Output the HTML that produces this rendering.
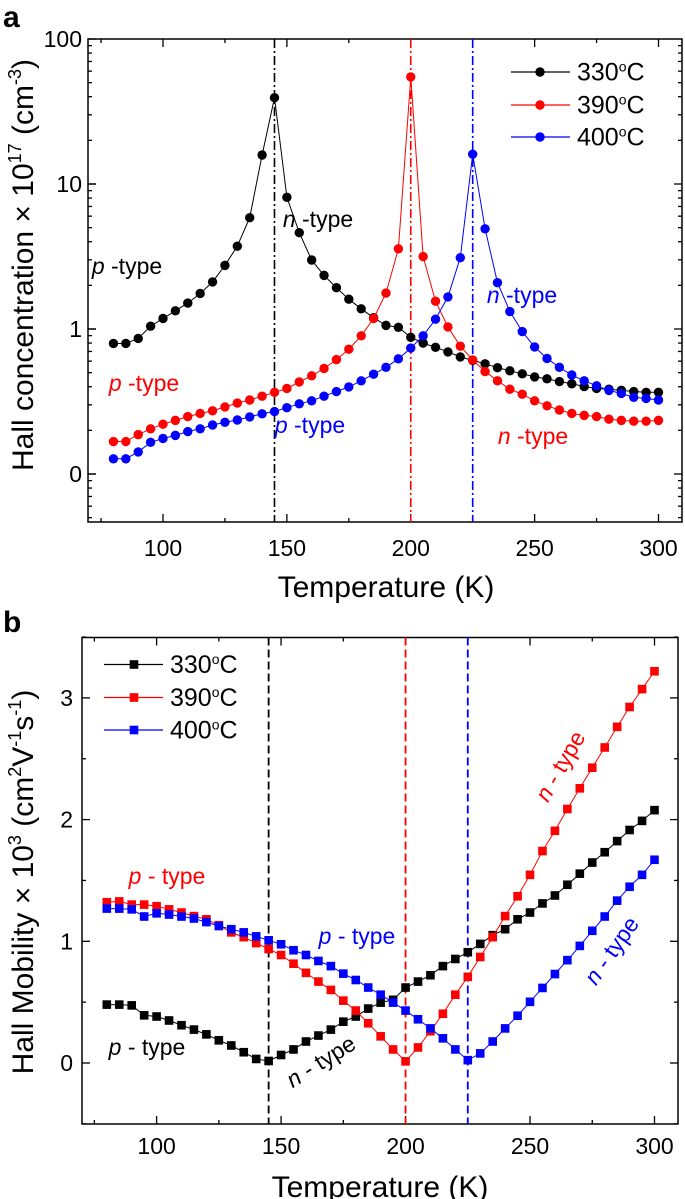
<!DOCTYPE html>
<html><head><meta charset="utf-8"><style>
html,body{margin:0;padding:0;background:#fff;}
svg{display:block;font-family:"Liberation Sans",sans-serif;}
</style></head><body>
<svg id="s" width="685" height="1199" viewBox="0 0 685 1199" xmlns="http://www.w3.org/2000/svg">
<text x="3" y="27" font-size="30" font-weight="bold">a</text>
<text x="3" y="632" font-size="30" font-weight="bold">b</text>
<rect x="88" y="39" width="594" height="483" fill="none" stroke="#000" stroke-width="1.5"/>
<rect x="82" y="637.5" width="596" height="486.5" fill="none" stroke="#000" stroke-width="1.5"/>
<g id="g"></g>
<text x="386" y="597" font-size="30" text-anchor="middle">Temperature (K)</text>
<text x="380" y="1197" font-size="30" text-anchor="middle">Temperature (K)</text>
<text transform="translate(33,265) rotate(-90)" font-size="30" text-anchor="middle">Hall concentration × 10<tspan font-size="18" dy="-12">17</tspan><tspan dy="12"> (cm</tspan><tspan font-size="18" dy="-12">-3</tspan><tspan dy="12">)</tspan></text>
<text transform="translate(33,882) rotate(-90)" font-size="30" text-anchor="middle">Hall Mobility × 10<tspan font-size="18" dy="-12">3</tspan><tspan dy="12"> (cm</tspan><tspan font-size="18" dy="-12">2</tspan><tspan dy="12">V</tspan><tspan font-size="18" dy="-12">-1</tspan><tspan dy="12">s</tspan><tspan font-size="18" dy="-12">-1</tspan><tspan dy="12">)</tspan></text>
<g font-size="23">
<text x="127" y="274" text-anchor="middle"><tspan font-style="italic">p</tspan> -type</text>
<text x="318" y="227" text-anchor="middle"><tspan font-style="italic">n</tspan> -type</text>
<text x="144" y="391" text-anchor="middle" fill="#f00"><tspan font-style="italic">p</tspan> -type</text>
<text x="310" y="433" text-anchor="middle" fill="#00f"><tspan font-style="italic">p</tspan> -type</text>
<text x="522" y="303" text-anchor="middle" fill="#00f"><tspan font-style="italic">n</tspan> -type</text>
<text x="533" y="444" text-anchor="middle" fill="#f00"><tspan font-style="italic">n</tspan> -type</text>
<text x="167" y="884" text-anchor="middle" fill="#f00"><tspan font-style="italic">p</tspan> - type</text>
<text x="357" y="944" text-anchor="middle" fill="#00f"><tspan font-style="italic">p</tspan> - type</text>
<text x="147" y="1055" text-anchor="middle"><tspan font-style="italic">p</tspan> - type</text>
<text transform="translate(325,1068) rotate(-32)" text-anchor="middle"><tspan font-style="italic">n</tspan> - type</text>
<text transform="translate(567,770) rotate(-60)" text-anchor="middle" fill="#f00"><tspan font-style="italic">n</tspan> - type</text>
<text transform="translate(618,955) rotate(-55)" text-anchor="middle" fill="#00f"><tspan font-style="italic">n</tspan> - type</text>
</g>
</svg>
<script>
var NS="http://www.w3.org/2000/svg",g=document.getElementById("g");
function el(t,a,txt){var e=document.createElementNS(NS,t);for(var k in a)e.setAttribute(k,a[k]);if(txt)e.textContent=txt;g.appendChild(e);return e;}
var T=[];for(var t=80;t<=300;t+=5)T.push(t);
function xa(t){return 163+(t-100)*2.4775;}
function xb(t){return 156.6+(t-100)*2.4895;}
var A={k:[893,893,880,848,828,808,788,763,733,690,640,566,403,254,513,605,676,716,748,778,803,826,846,851,877,892,903,915,928,937,946,956,964,972,980,985,992,998,1005,1010,1012,1015,1018,1020,1020],
r:[1148,1148,1130,1115,1103,1093,1083,1075,1068,1058,1048,1040,1030,1020,1010,993,977,958,935,908,873,828,762,647,200,667,783,850,900,936,966,990,1012,1025,1042,1055,1066,1075,1080,1083,1090,1093,1095,1095,1093],
b:[1193,1193,1175,1150,1140,1132,1122,1115,1105,1098,1092,1084,1076,1070,1060,1050,1042,1030,1018,1006,990,973,955,933,905,873,830,772,670,401,595,735,810,862,902,932,955,975,990,1003,1015,1023,1033,1036,1040]};
var B={k:[1070,1070,1072,1097,1100,1110,1122,1133,1145,1160,1173,1190,1207,1212,1197,1183,1163,1148,1133,1113,1100,1080,1065,1058,1027,1012,996,973,955,938,917,895,880,855,838,815,795,768,740,712,686,658,630,607,580],
r:[812,810,818,818,822,830,838,847,855,870,888,900,915,930,945,967,990,1012,1033,1060,1085,1117,1150,1183,1213,1178,1137,1093,1045,1000,950,900,847,797,743,683,632,577,525,473,422,370,320,275,230],
b:[828,828,830,848,840,843,848,853,862,872,880,888,898,908,918,933,945,960,973,992,1008,1027,1045,1065,1085,1107,1130,1155,1183,1210,1193,1163,1130,1098,1063,1028,993,958,922,884,848,808,773,743,705]};
var C={k:"#000",r:"#f00",b:"#00f"};
for(var t=75;t<=300;t+=25){var maj=(t%50==0),L=maj?8:4,x=xa(t);
el("line",{x1:x,x2:x,y1:522,y2:522-L,stroke:"#000","stroke-width":1.3});
el("line",{x1:x,x2:x,y1:39,y2:39+L,stroke:"#000","stroke-width":1.3});
if(maj)el("text",{x:x,y:556,"font-size":23,"text-anchor":"middle"},""+t);
x=xb(t);
el("line",{x1:x,x2:x,y1:1124,y2:1124-L,stroke:"#000","stroke-width":1.3});
el("line",{x1:x,x2:x,y1:637.5,y2:637.5+L,stroke:"#000","stroke-width":1.3});
if(maj)el("text",{x:x,y:1154,"font-size":23,"text-anchor":"middle"},""+t);}
function ya(v){return 329-145*Math.log10(v);}
var lab={"100":"100","10":"10","1":"1","0.1":"0"};
[0.1,1,10].forEach(function(d){for(var m=1;m<=9;m++){var v=d*m,y=ya(v);if(y<39)continue;var L=m==1?8:4;
el("line",{x1:88,x2:88+L,y1:y,y2:y,stroke:"#000","stroke-width":1.3});
el("line",{x1:682,x2:682-L,y1:y,y2:y,stroke:"#000","stroke-width":1.3});}});
[0.03,0.04,0.05,0.06,0.07,0.08,0.09].forEach(function(v){var y=ya(v);if(y<522){el("line",{x1:88,x2:92,y1:y,y2:y,stroke:"#000","stroke-width":1.3});el("line",{x1:682,x2:678,y1:y,y2:y,stroke:"#000","stroke-width":1.3});}});
[100,10,1,0.1].forEach(function(v){var y=ya(v);
el("line",{x1:88,x2:96,y1:y,y2:y,stroke:"#000","stroke-width":1.3});
el("text",{x:82,y:y+8,"font-size":23,"text-anchor":"end"},lab[""+v]);});
function yb(v){return 1063-121.7*v;}
for(var v=-0.5;v<=3.5;v+=0.5){var y=yb(v),maj=(v%1==0),L=maj?8:4;
el("line",{x1:82,x2:82+L,y1:y,y2:y,stroke:"#000","stroke-width":1.3});
el("line",{x1:678,x2:678-L,y1:y,y2:y,stroke:"#000","stroke-width":1.3});
if(maj&&v>=0)el("text",{x:73,y:y+8,"font-size":23,"text-anchor":"end"},""+v);}
[[145,"k"],[200,"r"],[225,"b"]].forEach(function(p){
el("line",{x1:xa(p[0]),x2:xa(p[0]),y1:39,y2:522,stroke:C[p[1]],"stroke-width":1.6,"stroke-dasharray":"9,3,2,3"});
el("line",{x1:xb(p[0]),x2:xb(p[0]),y1:637.5,y2:1124,stroke:C[p[1]],"stroke-width":1.8,"stroke-dasharray":"8,4"});});
["k","r","b"].forEach(function(s){
var pa=A[s].map(function(y,i){return xa(T[i]).toFixed(1)+","+(y/2.6).toFixed(1);}).join(" ");
el("polyline",{points:pa,fill:"none",stroke:C[s],"stroke-width":1});
A[s].forEach(function(y,i){el("circle",{cx:xa(T[i]),cy:y/2.6,r:4.7,fill:C[s]});});
var pb=B[s].map(function(y,i){return xb(T[i]).toFixed(1)+","+(y/2.52+580).toFixed(1);}).join(" ");
el("polyline",{points:pb,fill:"none",stroke:C[s],"stroke-width":1});
B[s].forEach(function(y,i){el("rect",{x:xb(T[i])-4.3,y:y/2.52+580-4.3,width:8.6,height:8.6,fill:C[s]});});});
var names=["330","390","400"];
function legText(x,y,n){var t=el("text",{x:x,y:y+8.5,"font-size":25},n);
var ts=document.createElementNS(NS,"tspan");ts.setAttribute("font-size","14");ts.setAttribute("dy","-9");ts.textContent="o";t.appendChild(ts);
var ts2=document.createElementNS(NS,"tspan");ts2.setAttribute("dy","9");ts2.textContent="C";t.appendChild(ts2);}
["k","r","b"].forEach(function(s,i){
var y=[72,105,137][i];
el("line",{x1:511,x2:570,y1:y,y2:y,stroke:C[s],"stroke-width":1.2});
el("circle",{cx:540,cy:y,r:4.7,fill:C[s]});
legText(577,y,names[i]);
y=[664.5,697.5,730][i];
el("line",{x1:104,x2:163,y1:y,y2:y,stroke:C[s],"stroke-width":1.2});
el("rect",{x:129.7,y:y-4.3,width:8.6,height:8.6,fill:C[s]});
legText(170,y,names[i]);});
</script>
</body></html>
